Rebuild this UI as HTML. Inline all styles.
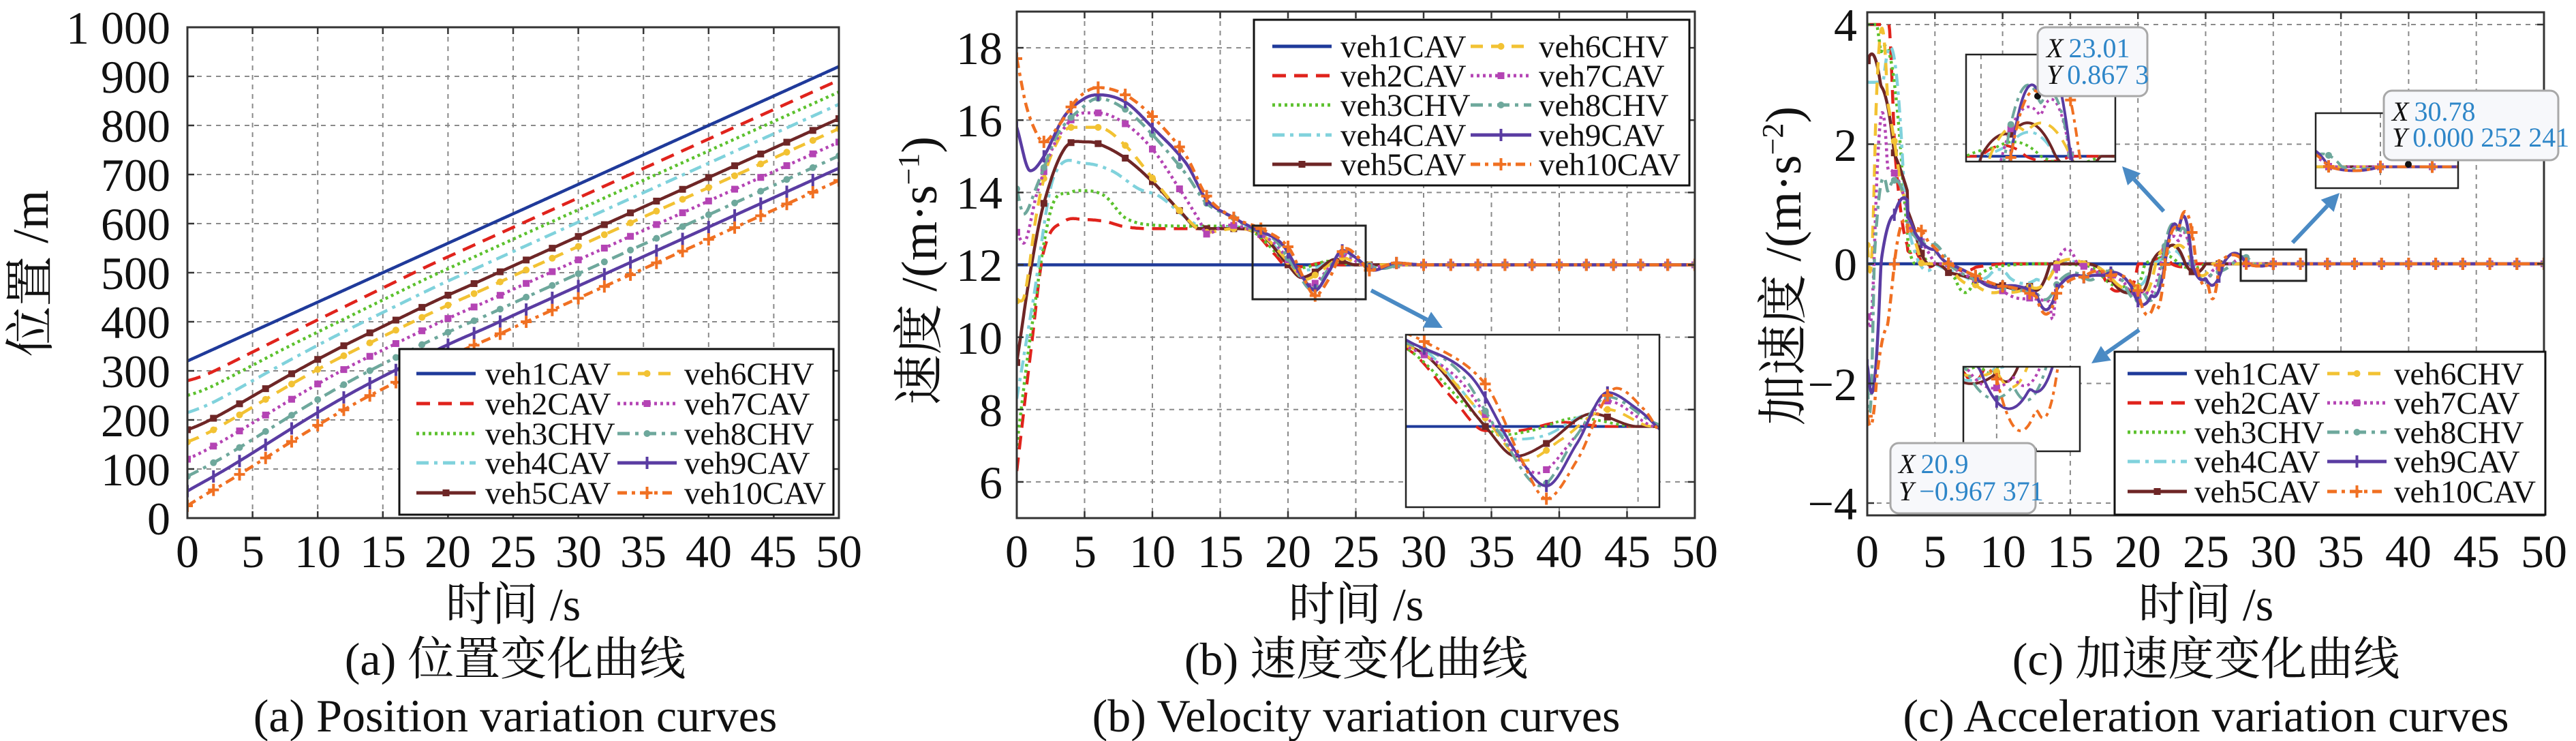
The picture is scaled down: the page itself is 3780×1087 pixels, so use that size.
<!DOCTYPE html>
<html><head><meta charset="utf-8">
<style>
html,body{margin:0;padding:0;background:#fff;}
svg{display:block;}
svg text{font-family:"Liberation Serif","DejaVu Serif","Noto Serif CJK SC",serif;fill:#111;}
.tk{font-size:68px;}
.lg{font-size:47px;}
.tt{font-size:40px;}
.tv{fill:#2e86c8;}
</style></head>
<body>
<svg id="s" width="3780" height="1087" viewBox="0 0 3780 1087" xmlns="http://www.w3.org/2000/svg" font-family="Liberation Serif, DejaVu Serif, Noto Serif CJK SC, serif" style="font-family:'Liberation Serif','DejaVu Serif','Noto Serif CJK SC',serif">
<defs>
<clipPath id="ca"><rect x="275" y="40" width="956" height="720"/></clipPath>
<clipPath id="cb"><rect x="1492" y="17" width="995" height="743"/></clipPath>
<clipPath id="cc"><rect x="2740" y="18" width="993" height="738"/></clipPath>
<clipPath id="ib"><rect x="2063" y="491" width="372" height="253"/></clipPath>
<clipPath id="ic1"><rect x="2885" y="80" width="219" height="157"/></clipPath>
<clipPath id="ic2"><rect x="3398" y="166" width="209" height="110"/></clipPath>
<clipPath id="ic3"><rect x="2881" y="538" width="171" height="124"/></clipPath>
</defs>
<g id="grid"></g>
<g id="curves"></g>
<g id="over"></g>
<g id="legs"></g>

<g id="texts">
<g class="tk" text-anchor="end">
<text x="250" y="784">0</text><text x="250" y="712">100</text><text x="250" y="640">200</text><text x="250" y="568">300</text><text x="250" y="496">400</text><text x="250" y="424">500</text><text x="250" y="352">600</text><text x="250" y="280">700</text><text x="250" y="208">800</text><text x="250" y="136">900</text><text x="250" y="64">1 000</text>
</g>
<g class="tk" text-anchor="middle">
<text x="275" y="832">0</text><text x="371" y="832">5</text><text x="466" y="832">10</text><text x="562" y="832">15</text><text x="657" y="832">20</text><text x="753" y="832">25</text><text x="849" y="832">30</text><text x="944" y="832">35</text><text x="1040" y="832">40</text><text x="1135" y="832">45</text><text x="1231" y="832">50</text>
<text x="753" y="910">时间 /s</text>
<text x="756" y="990">(a) 位置变化曲线</text>
<text x="756" y="1073">(a) Position variation curves</text>
<text transform="translate(70,401) rotate(-90)" font-size="74">位置 /m</text>
</g>

<g class="tk" text-anchor="end">
<text x="1471" y="731">6</text><text x="1471" y="625">8</text><text x="1471" y="519">10</text><text x="1471" y="412">12</text><text x="1471" y="306">14</text><text x="1471" y="200">16</text><text x="1471" y="94">18</text>
</g>
<g class="tk" text-anchor="middle">
<text x="1492" y="832">0</text><text x="1592" y="832">5</text><text x="1691" y="832">10</text><text x="1791" y="832">15</text><text x="1890" y="832">20</text><text x="1990" y="832">25</text><text x="2089" y="832">30</text><text x="2189" y="832">35</text><text x="2288" y="832">40</text><text x="2388" y="832">45</text><text x="2487" y="832">50</text>
<text x="1990" y="910">时间 /s</text>
<text x="1990" y="990">(b) 速度变化曲线</text>
<text x="1990" y="1073">(b) Velocity variation curves</text>
<text transform="translate(1374,397) rotate(-90)" font-size="74">速度 /(m·s<tspan dy="-26" font-size="44">−1</tspan><tspan dy="26">)</tspan></text>
</g>

<g class="tk" text-anchor="end">
<text x="2725" y="60">4</text><text x="2725" y="236">2</text><text x="2725" y="411">0</text><text x="2725" y="587">−2</text><text x="2725" y="762">−4</text>
</g>
<g class="tk" text-anchor="middle">
<text x="2740" y="832">0</text><text x="2839" y="832">5</text><text x="2939" y="832">10</text><text x="3038" y="832">15</text><text x="3137" y="832">20</text><text x="3237" y="832">25</text><text x="3336" y="832">30</text><text x="3435" y="832">35</text><text x="3534" y="832">40</text><text x="3634" y="832">45</text><text x="3733" y="832">50</text>
<text x="3237" y="910">时间 /s</text>
<text x="3237" y="990">(c) 加速度变化曲线</text>
<text x="3237" y="1073">(c) Acceleration variation curves</text>
<text transform="translate(2642,390) rotate(-90)" font-size="74">加速度 /(m·s<tspan dy="-26" font-size="44">−2</tspan><tspan dy="26">)</tspan></text>
</g>

<g class="lg">
<text x="712" y="564">veh1CAV</text><text x="712" y="608">veh2CAV</text><text x="712" y="652">veh3CHV</text><text x="712" y="695">veh4CAV</text><text x="712" y="739">veh5CAV</text>
<text x="1004" y="564">veh6CHV</text><text x="1004" y="608">veh7CAV</text><text x="1004" y="652">veh8CHV</text><text x="1004" y="695">veh9CAV</text><text x="1004" y="739">veh10CAV</text>
<text x="1967" y="84">veh1CAV</text><text x="1967" y="127">veh2CAV</text><text x="1967" y="170">veh3CHV</text><text x="1967" y="214">veh4CAV</text><text x="1967" y="257">veh5CAV</text>
<text x="2258" y="84">veh6CHV</text><text x="2258" y="127">veh7CAV</text><text x="2258" y="170">veh8CHV</text><text x="2258" y="214">veh9CAV</text><text x="2258" y="257">veh10CAV</text>
<text x="3220" y="564">veh1CAV</text><text x="3220" y="607">veh2CAV</text><text x="3220" y="650">veh3CHV</text><text x="3220" y="693">veh4CAV</text><text x="3220" y="737">veh5CAV</text>
<text x="3513" y="564">veh6CHV</text><text x="3513" y="607">veh7CAV</text><text x="3513" y="650">veh8CHV</text><text x="3513" y="693">veh9CAV</text><text x="3513" y="737">veh10CAV</text>
</g>

<g id="tips">
<rect x="2990" y="40" width="161" height="101" rx="12" fill="#f7f8fb" stroke="#a8a8a8" stroke-width="3"/>
<text class="tt" x="3003" y="84"><tspan font-style="italic">X</tspan><tspan class="tv" dx="8">23.01</tspan></text>
<text class="tt" x="3003" y="123"><tspan font-style="italic">Y</tspan><tspan class="tv" dx="8">0.867 3</tspan></text>
<rect x="3498" y="133" width="256" height="102" rx="12" fill="#f7f8fb" stroke="#a8a8a8" stroke-width="3"/>
<text class="tt" x="3510" y="177"><tspan font-style="italic">X</tspan><tspan class="tv" dx="8">30.78</tspan></text>
<text class="tt" x="3510" y="215"><tspan font-style="italic">Y</tspan><tspan class="tv" dx="8">0.000 252 241</tspan></text>
<rect x="2774" y="650" width="213" height="103" rx="12" fill="#f7f8fb" stroke="#a8a8a8" stroke-width="3"/>
<text class="tt" x="2786" y="694"><tspan font-style="italic">X</tspan><tspan class="tv" dx="8">20.9</tspan></text>
<text class="tt" x="2786" y="734"><tspan font-style="italic">Y</tspan><tspan class="tv" dx="8">−0.967 371</tspan></text>
</g>
</g>
</svg>
<script>
(function(){
var NS="http://www.w3.org/2000/svg";
function el(p,n,a){var e=document.createElementNS(NS,n);for(var k in a)e.setAttribute(k,a[k]);p.appendChild(e);return e;}
var G=document.getElementById('grid'),C=document.getElementById('curves'),O=document.getElementById('over'),L=document.getElementById('legs');

var K=[
 [[0,12],[50,12]],
 [[0,6.3],[1,9.5],[2,12.4],[3.5,13.2],[5,13.25],[6.5,13.2],[8,13.05],[10,13.0],[16,13.0],[17.5,12.9],[19,12.3],[20,11.95],[21,11.95],[22.5,12.05],[24,12],[50,12]],
 [[0,7],[1,10],[2.5,13.5],[4,14.0],[5,14.05],[6.5,13.9],[8,13.3],[10,13.1],[16,13.05],[17.5,12.9],[19.5,12.2],[20.5,11.9],[21.5,11.95],[23,12.1],[25,12],[50,12]],
 [[0,8.3],[1.2,11],[2.7,14.4],[5,14.8],[7,14.6],[9,14.1],[10.5,13.9],[12.5,13.3],[14,13.0],[16,13.05],[18,12.9],[20,12.1],[21,11.85],[22,11.9],[23.5,12.15],[25,12],[50,12]],
 [[0,9.3],[1,11.8],[2,13.7],[3.5,15.2],[5,15.4],[6,15.35],[8,14.95],[10,14.3],[12,13.5],[13.5,13.0],[16,13.0],[18,12.85],[20,12.0],[21,11.65],[22,11.8],[23.5,12.15],[25,12.0],[50,12]],
 [[0,11],[0.6,11.2],[1.5,13.5],[2.5,15],[4,15.8],[6,15.8],[8,15.3],[10,14.4],[12,13.5],[14,12.9],[16,13.0],[18,12.85],[20,12.1],[21.3,11.6],[22.5,11.85],[24,12.2],[25.5,12],[50,12]],
 [[0,12.9],[0.5,12.6],[1.5,14],[3,15.5],[5,16.2],[6,16.2],[8,15.9],[10,15.2],[12,14.1],[13.5,13.2],[14,12.85],[15.5,13.1],[17,13.0],[19,12.6],[20.5,11.9],[21.7,11.45],[23,11.9],[24,12.3],[25.5,12.0],[27,11.95],[28,12],[50,12]],
 [[0,14.1],[0.5,13.4],[1.5,14.2],[3,15.6],[5,16.4],[6,16.6],[8,16.3],[10,15.6],[12.5,14.5],[14,13.7],[16,13.3],[17,13.05],[19,12.7],[20.5,11.9],[21.8,11.3],[23,11.9],[24,12.35],[25.5,12.05],[27,11.9],[28.5,12.02],[30,12],[50,12]],
 [[0,15.8],[1,14.6],[2,15.0],[3.5,16.1],[5,16.6],[6,16.7],[8,16.5],[10,15.8],[12.5,14.8],[14,13.8],[16,13.3],[17.5,13.0],[19.5,12.6],[21,11.7],[22,11.3],[23,11.8],[24,12.4],[25,12.2],[26.3,11.85],[28,12.05],[30,12],[50,12]],
 [[0,17.7],[0.7,16.4],[1.5,15.6],[2,15.4],[3,15.8],[4.5,16.6],[6,16.9],[8,16.7],[10,16.1],[12.5,15.0],[14,13.9],[16,13.3],[18,13.0],[20,12.5],[21.2,11.6],[22,11.15],[23,11.6],[24.3,12.45],[25.2,12.2],[26,11.85],[28,12.05],[30,12],[50,12]]
];
var P0=[320,280,250,215,180,155,120,85,55,25];
var ST=[
 {c:'#1f3a9a',d:'',m:null},
 {c:'#e0231c',d:'20 12',m:null},
 {c:'#5cc12e',d:'4 5',m:null},
 {c:'#80d2dc',d:'18 8 5 8',m:null},
 {c:'#6e2626',d:'',m:'sq'},
 {c:'#f2c233',d:'18 12',m:'dot'},
 {c:'#b444b4',d:'4 5',m:'sq'},
 {c:'#6ea89c',d:'18 8 5 8',m:'dot'},
 {c:'#5a3ca2',d:'',m:'bar'},
 {c:'#f07022',d:'14 7 5 7',m:'plus'}
];
function herm(k,t){
 var n=k.length;if(t<=k[0][0])return k[0][1];if(t>=k[n-1][0])return k[n-1][1];
 var i=0;while(i<n-2&&t>k[i+1][0])i++;
 function m(j){if(j===0)return (k[1][1]-k[0][1])/(k[1][0]-k[0][0]);if(j===n-1)return (k[n-1][1]-k[n-2][1])/(k[n-1][0]-k[n-2][0]);
  var mm=(k[j+1][1]-k[j-1][1])/(k[j+1][0]-k[j-1][0]);
  var a=(k[j][1]-k[j-1][1]),b=(k[j+1][1]-k[j][1]);if(a*b<=0)mm=0;return mm;}
 var t0=k[i][0],t1=k[i+1][0],h=t1-t0,s=(t-t0)/h;
 var s2=s*s,s3=s2*s;
 return (2*s3-3*s2+1)*k[i][1]+(s3-2*s2+s)*h*m(i)+(-2*s3+3*s2)*k[i+1][1]+(s3-s2)*h*m(i+1);
}
var dt=0.05,N=1001,T=[],V=[],A=[],P=[];
for(var j=0;j<N;j++)T.push(j*dt);
for(var s=0;s<10;s++){
 var v=[],a=[],p=[];
 for(var j=0;j<N;j++)v.push(herm(K[s],T[j]));
 for(var j=0;j<N;j++){var j0=Math.max(0,j-1),j1=Math.min(N-1,j+1);var d=(v[j1]-v[j0])/((j1-j0)*dt);if(T[j]<3)d*=1.35;a.push(Math.max(-4,Math.min(4,d)));}
 p.push(P0[s]);for(var j=1;j<N;j++)p.push(p[j-1]+(v[j]+v[j-1])/2*dt);
 V.push(v);A.push(a);P.push(p);
}
function mk(g,type,x,y,c,sc){sc=sc||1;
 if(type==='sq')el(g,'rect',{x:x-5*sc,y:y-5*sc,width:10*sc,height:10*sc,fill:c});
 else if(type==='dot')el(g,'circle',{cx:x,cy:y,r:5*sc,fill:c});
 else if(type==='bar')el(g,'line',{x1:x,y1:y-9*sc,x2:x,y2:y+9*sc,stroke:c,'stroke-width':4});
 else if(type==='plus'){el(g,'line',{x1:x,y1:y-9*sc,x2:x,y2:y+9*sc,stroke:c,'stroke-width':4});el(g,'line',{x1:x-8*sc,y1:y,x2:x+8*sc,y2:y,stroke:c,'stroke-width':4});}
}
function draw(parent,clip,Y,fx,fy,t0,t1,lw,marks){
 var g=el(parent,'g',{'clip-path':'url(#'+clip+')'});
 for(var s=0;s<10;s++){
  var d='';var first=true;
  for(var j=0;j<N;j++){if(T[j]<t0-0.1||T[j]>t1+0.1)continue;d+=(first?'M':'L')+fx(T[j]).toFixed(1)+','+fy(Y[s][j]).toFixed(1);first=false;}
  var at={d:d,fill:'none',stroke:ST[s].c,'stroke-width':lw,'stroke-linejoin':'round'};
  if(ST[s].d)at['stroke-dasharray']=ST[s].d;
  el(g,'path',at);
  if(marks&&ST[s].m){for(var j=0;j<N;j+=40){if(T[j]<t0||T[j]>t1)continue;mk(g,ST[s].m,fx(T[j]),fy(Y[s][j]),ST[s].c);}}
 }
}
function axes(x0,x1,y0,y1,xs,ys){
 for(var i=0;i<xs.length;i++){el(G,'line',{x1:xs[i],y1:y0,x2:xs[i],y2:y1,stroke:'#8a8a8a','stroke-width':2,'stroke-dasharray':'7 7'});}
 for(var i=0;i<ys.length;i++){el(G,'line',{x1:x0,y1:ys[i],x2:x1,y2:ys[i],stroke:'#8a8a8a','stroke-width':2,'stroke-dasharray':'7 7'});}
 for(var i=0;i<xs.length;i++){el(O,'line',{x1:xs[i],y1:y1,x2:xs[i],y2:y1-10,stroke:'#333','stroke-width':2.5});el(O,'line',{x1:xs[i],y1:y0,x2:xs[i],y2:y0+10,stroke:'#333','stroke-width':2.5});}
 for(var i=0;i<ys.length;i++){el(O,'line',{x1:x0,y1:ys[i],x2:x0+10,y2:ys[i],stroke:'#333','stroke-width':2.5});el(O,'line',{x1:x1,y1:ys[i],x2:x1-10,y2:ys[i],stroke:'#333','stroke-width':2.5});}
 el(O,'rect',{x:x0,y:y0,width:x1-x0,height:y1-y0,fill:'none',stroke:'#333','stroke-width':3});
}
var ax=function(t){return 275+t*19.12},ay=function(p){return 760-p*0.72};
var xs=[],ys=[];for(var i=0;i<=10;i++)xs.push(275+i*95.6);for(var i=0;i<=10;i++)ys.push(760-i*72);
axes(275,1231,40,760,xs,ys);
draw(C,'ca',P,ax,ay,0,50,4.5,true);
var bx=function(t){return 1492+t*19.9},by=function(v){return 760-(v-5)*53.07};
xs=[];ys=[];for(var i=0;i<=10;i++)xs.push(1492+i*99.5);for(var v=6;v<=18;v+=2)ys.push(by(v));
axes(1492,2487,17,760,xs,ys);
draw(C,'cb',V,bx,by,0,50,4.5,true);
var cx=function(t){return 2740+t*19.86},cy=function(a){return 387-a*87.75};
xs=[];ys=[];for(var i=0;i<=10;i++)xs.push(2740+i*99.3);for(var a=-4;a<=4;a+=2)ys.push(cy(a));
axes(2740,3733,18,756,xs,ys);
draw(C,'cc',A,cx,cy,0,50,4.5,true);

function inset(clip,X0,Y0,W,H,t0,t1,v0,v1,Y,gx){
 var g=el(O,'g',{});
 el(g,'rect',{x:X0,y:Y0,width:W,height:H,fill:'#fff'});
 var fx=function(t){return X0+(t-t0)/(t1-t0)*W},fy=function(v){return Y0+(v1-v)/(v1-v0)*H};
 (gx||[]).forEach(function(t){el(g,'line',{x1:fx(t),y1:Y0,x2:fx(t),y2:Y0+H,stroke:'#8a8a8a','stroke-width':2,'stroke-dasharray':'7 7'});});
 draw(g,clip,Y,fx,fy,t0,t1,4,true);
 el(g,'rect',{x:X0,y:Y0,width:W,height:H,fill:'none',stroke:'#222','stroke-width':2.5});
}
el(O,'rect',{x:1838,y:331,width:166,height:108,fill:'none',stroke:'#222','stroke-width':3});
inset('ib',2063,491,372,253,17.4,25.7,11.05,13.08,V,[20,25]);
inset('ic1',2885,80,219,157,20.5,25.5,-0.05,0.95,A,[21]);
inset('ic2',3398,166,209,110,27.5,33,-0.2,0.5,A,[30]);
inset('ic3',2881,538,171,124,19,22.5,-1.02,-0.35,A,[20]);
el(O,'rect',{x:3288,y:366,width:96,height:46,fill:'none',stroke:'#222','stroke-width':3});
el(O,'circle',{cx:2990,cy:141,r:5,fill:'#111'});
el(O,'circle',{cx:3534,cy:241,r:5,fill:'#111'});
el(O,'circle',{cx:2984,cy:660,r:5,fill:'#111'});
function arrow(x1,y1,x2,y2){
 var dx=x2-x1,dy=y2-y1,l=Math.sqrt(dx*dx+dy*dy),ux=dx/l,uy=dy/l,hl=26,hw=13;
 var bx2=x2-ux*hl,by2=y2-uy*hl;
 el(O,'line',{x1:x1,y1:y1,x2:bx2,y2:by2,stroke:'#4a8ac4','stroke-width':6});
 el(O,'polygon',{points:x2+','+y2+' '+(bx2-uy*hw)+','+(by2+ux*hw)+' '+(bx2+uy*hw)+','+(by2-ux*hw),fill:'#4a8ac4'});
}
arrow(2012,426,2117,481);
arrow(3175,310,3114,244);
arrow(3364,356,3433,283);
arrow(3139,484,3069,533);
function legend(bx0,by0,bw,bh,rows,c1,c2){
 el(L,'rect',{x:bx0,y:by0,width:bw,height:bh,fill:'#fff',stroke:'#111','stroke-width':3});
 for(var s=0;s<10;s++){var col=s<5?c1:c2,y=rows[s%5];
  var at={x1:col[0],y1:y,x2:col[1],y2:y,stroke:ST[s].c,'stroke-width':5};if(ST[s].d)at['stroke-dasharray']=ST[s].d;
  el(L,'line',at);if(ST[s].m)mk(L,ST[s].m,(col[0]+col[1])/2,y,ST[s].c);}
}
legend(586,512,637,243,[548,592,636,679,723],[611,698],[906,993]);
legend(1840,29,639,243,[68,111,154,198,241],[1867,1954],[2158,2247]);
legend(3103,516,632,239,[548,591,634,677,721],[3122,3209],[3415,3502]);
})();
</script>
</body></html>
